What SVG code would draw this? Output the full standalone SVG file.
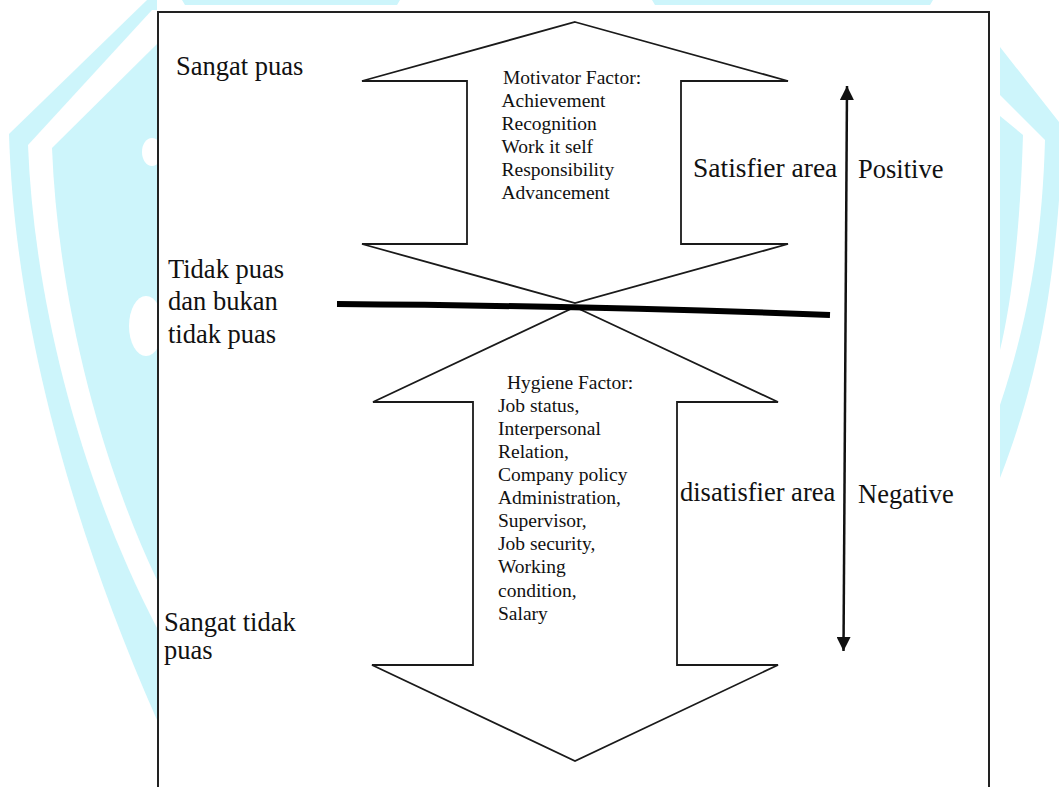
<svg xmlns="http://www.w3.org/2000/svg" width="1059" height="787" viewBox="0 0 1059 787">
  <defs>
    <style>
      .wm { fill: #cdf5fb; stroke: none; }
      .wmw { fill: #ffffff; stroke: none; }
      .shape { fill: #ffffff; stroke: #1a1a1a; stroke-width: 1.8; stroke-linejoin: miter; }
      .lbl { font-family: "Liberation Serif", "Times New Roman", serif; font-size: 26.5px; fill: #111111; }
      .sm { font-family: "Liberation Serif", "Times New Roman", serif; font-size: 19.5px; fill: #111111; }
      .axis { stroke: #111111; stroke-width: 2.5; fill: none; }
    </style>
    <marker id="ah" viewBox="0 0 14 14" refX="14" refY="7" markerWidth="14" markerHeight="14" markerUnits="userSpaceOnUse" orient="auto-start-reverse">
      <path d="M0,0 L14,7 L0,14 Z" fill="#111111"/>
    </marker>
  </defs>

  <rect x="0" y="0" width="1059" height="787" fill="#ffffff"/>

  <!-- background watermark -->
  <g id="watermark">
    <path class="wm" d="M147,0 L9,134 C14,300 60,500 157,720 L157,0 Z"/>
    <path class="wmw" d="M152,10 L28,145 C34,300 80,480 157,628 L157,10 Z"/>
    <path class="wm" d="M157,44 L52,148 C58,300 100,460 157,580 Z"/>
    <ellipse class="wmw" cx="152" cy="152" rx="10" ry="14"/>
    <ellipse class="wmw" cx="146" cy="326" rx="17" ry="30"/>
    <path class="wm" d="M1000,47 L1059,122 L1059,200 C1050,320 1030,400 1000,478 Z"/>
    <path class="wmw" d="M1000,95 L1045,140 C1042,250 1025,330 1000,405 Z"/>
    <path class="wm" d="M1000,116 L1023,135 C1020,230 1012,300 1000,350 Z"/>
    <path class="wm" d="M182,0 L400,0 L397,5 L185,5 Z"/>
    <path class="wm" d="M652,0 L933,0 L930,5 L655,5 Z"/>
  </g>

  <!-- frame -->
  <rect id="frame" x="158" y="12" width="831" height="800" fill="#ffffff" stroke="#222222" stroke-width="2"/>

  <!-- upper double arrow (satisfier) -->
  <g id="motivator-arrow">
    <polygon class="shape" points="575,22 788,81 681,81 681,244 788,244 575,303 362,244 467,244 467,81 362,81"/>
    <text class="sm" x="503" y="84">Motivator Factor:</text>
    <text class="sm" x="501.5" y="107">Achievement</text>
    <text class="sm" x="501.5" y="130">Recognition</text>
    <text class="sm" x="501.5" y="153">Work it self</text>
    <text class="sm" x="501.5" y="176">Responsibility</text>
    <text class="sm" x="501.5" y="199">Advancement</text>
  </g>

  <!-- lower double arrow (dissatisfier) -->
  <g id="hygiene-arrow">
    <polygon class="shape" points="575,307 778,402 677,402 677,665 778,665 575,761 372,665 473,665 473,402 373,402"/>
    <text class="sm" x="507" y="388.5">Hygiene Factor:</text>
    <text class="sm" x="498" y="411.5">Job status,</text>
    <text class="sm" x="498" y="435">Interpersonal</text>
    <text class="sm" x="498" y="458">Relation,</text>
    <text class="sm" x="498" y="481">Company policy</text>
    <text class="sm" x="498" y="504">Administration,</text>
    <text class="sm" x="498" y="527">Supervisor,</text>
    <text class="sm" x="498" y="550">Job security,</text>
    <text class="sm" x="498" y="573">Working</text>
    <text class="sm" x="498" y="597">condition,</text>
    <text class="sm" x="498" y="620">Salary</text>
  </g>

  <!-- connectors -->
  <g id="connectors">
    <path id="neutral-line" d="M337,304 Q600,306 830,315" fill="none" stroke="#000000" stroke-width="6"/>
    <line id="axis" class="axis" x1="847" y1="86" x2="843.5" y2="651" marker-start="url(#ah)" marker-end="url(#ah)"/>
  </g>

  <!-- labels -->
  <g id="label-sangat-puas"><text class="lbl" x="176" y="75">Sangat puas</text></g>
  <g id="label-netral">
    <text class="lbl" x="168" y="278">Tidak puas</text>
    <text class="lbl" x="168" y="310">dan bukan</text>
    <text class="lbl" x="168" y="343">tidak puas</text>
  </g>
  <g id="label-sangat-tidak-puas">
    <text class="lbl" x="164" y="631">Sangat tidak</text>
    <text class="lbl" x="164" y="659">puas</text>
  </g>
  <g id="label-satisfier"><text class="lbl" x="693" y="177" style="font-size:27.5px">Satisfier area</text></g>
  <g id="label-positive"><text class="lbl" x="858" y="178">Positive</text></g>
  <g id="label-disatisfier"><text class="lbl" x="680" y="501">disatisfier area</text></g>
  <g id="label-negative"><text class="lbl" x="858" y="503">Negative</text></g>
</svg>
